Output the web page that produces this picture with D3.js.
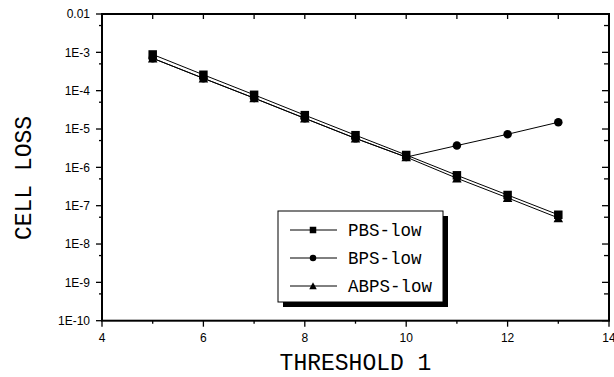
<!DOCTYPE html>
<html><head><meta charset="utf-8">
<script src="https://cdn.jsdelivr.net/npm/d3@7"></script>
<style>body{margin:0;background:#fff}svg{display:block}</style>
</head><body>
<svg id="c" width="614" height="377"></svg>
<script>
const thresholds = [5,6,7,8,9,10,11,12,13];
const pbsLow  = [8.8e-4,2.6e-4,7.8e-5,2.3e-5,6.9e-6,2.1e-6,6.2e-7,1.9e-7,5.8e-8];
const bpsLow  = [7.0e-4,2.1e-4,6.4e-5,1.9e-5,5.7e-6,1.85e-6,3.7e-6,7.3e-6,1.5e-5];
const abpsLow = [7.0e-4,2.1e-4,6.4e-5,1.9e-5,5.7e-6,1.85e-6,5.2e-7,1.6e-7,4.8e-8];
const seriesNames = ["PBS-low","BPS-low","ABPS-low"];
const xTicks = [4,6,8,10,12,14];
const xMinor = [5,7,9,11,13];
const yTicks = [1e-2,1e-3,1e-4,1e-5,1e-6,1e-7,1e-8,1e-9,1e-10];
const yTickLabels = ["0.01","1E-3","1E-4","1E-5","1E-6","1E-7","1E-8","1E-9","1E-10"];
const yMinor = [5e-3,5e-4,5e-5,5e-6,5e-7,5e-8,5e-9,5e-10];

const svg = d3.select("#c");
const L=102, R=609, T=14, B=320.7;
const x = d3.scaleLinear().domain([4,14]).range([L,R]);
const y = d3.scaleLog().domain([1e-10,1e-2]).range([B,T]);

const g = svg.append("g");
// ticks
function ticks(vals, fn){ vals.forEach(fn); }
const tk = g.append("g").attr("stroke","#000").attr("stroke-width",1.3);
xTicks.forEach(v=>{ tk.append("line").attr("x1",x(v)).attr("x2",x(v)).attr("y1",B).attr("y2",B+6);
  tk.append("line").attr("x1",x(v)).attr("x2",x(v)).attr("y1",T).attr("y2",T+5);});
xMinor.forEach(v=>{ tk.append("line").attr("x1",x(v)).attr("x2",x(v)).attr("y1",B).attr("y2",B+3);
  tk.append("line").attr("x1",x(v)).attr("x2",x(v)).attr("y1",T).attr("y2",T+5);});
yTicks.forEach(v=>{ tk.append("line").attr("x1",L-6).attr("x2",L).attr("y1",y(v)).attr("y2",y(v));
  tk.append("line").attr("x1",R-7).attr("x2",R).attr("y1",y(v)).attr("y2",y(v));});
yMinor.forEach(v=>{ tk.append("line").attr("x1",L-3).attr("x2",L).attr("y1",y(v)).attr("y2",y(v));
  tk.append("line").attr("x1",R-5).attr("x2",R).attr("y1",y(v)).attr("y2",y(v));});
// frame
g.append("rect").attr("x",L).attr("y",T).attr("width",R-L).attr("height",B-T)
  .attr("fill","none").attr("stroke","#000").attr("stroke-width",2);

// tick labels
const lf = "'Liberation Sans', Arial, sans-serif";
xTicks.forEach(v=>g.append("text").attr("x",x(v)).attr("y",342).attr("text-anchor","middle")
  .attr("font-family",lf).attr("font-size",12).text(v));
yTicks.forEach((v,i)=>g.append("text").attr("x",90).attr("y",y(v)).attr("dy","0.36em").attr("text-anchor","end")
  .attr("font-family",lf).attr("font-size",12).text(yTickLabels[i]));

// axis titles
const mf = "'Liberation Mono', 'Courier New', monospace";
g.append("text").attr("x",(L+R)/2).attr("y",370).attr("text-anchor","middle")
  .attr("font-family",mf).attr("font-size",23).text("THRESHOLD 1");
g.append("text").attr("transform","translate(31,178) rotate(-90)").attr("text-anchor","middle")
  .attr("font-family",mf).attr("font-size",23).text("CELL LOSS");

// lines
const line = d3.line().x((d,i)=>x(thresholds[i])).y(d=>y(d));
const series = [pbsLow,bpsLow,abpsLow];
series.forEach(s=>g.append("path").attr("d",line(s)).attr("fill","none").attr("stroke","#000").attr("stroke-width",1));

// markers
function marker(sel,type,cx,cy,sz){
  if(type===0) sel.append("rect").attr("x",cx-sz/2).attr("y",cy-sz/2).attr("width",sz).attr("height",sz).attr("fill","#000");
  else if(type===1) sel.append("circle").attr("cx",cx).attr("cy",cy).attr("r",sz/2).attr("fill","#000");
  else sel.append("path").attr("d",`M${cx},${cy-sz/2-0.5}L${cx+sz/2+0.5},${cy+sz/2}L${cx-sz/2-0.5},${cy+sz/2}Z`).attr("fill","#000");
}
const mk = g.append("g");
[2,1,0].forEach(k=>series[k].forEach((v,i)=>marker(mk,k,x(thresholds[i]),y(v),k===0?8.5:8.5)));

// legend
const lx=278, ly=211, lw=165, lh=91;
g.append("rect").attr("x",lx+5).attr("y",ly+5).attr("width",lw).attr("height",lh).attr("fill","#000");
g.append("rect").attr("x",lx).attr("y",ly).attr("width",lw).attr("height",lh).attr("fill","#fff").attr("stroke","#000").attr("stroke-width",1);
const rows=[230,258,286];
seriesNames.forEach((n,k)=>{
  g.append("line").attr("x1",290).attr("x2",337).attr("y1",rows[k]).attr("y2",rows[k]).attr("stroke","#000").attr("stroke-width",1);
  marker(g,k,313,rows[k],6.5);
  g.append("text").attr("x",348).attr("y",rows[k]).attr("dy","0.35em").attr("font-family",mf).attr("font-size",17.5).text(n);
});
</script>
</body></html>
